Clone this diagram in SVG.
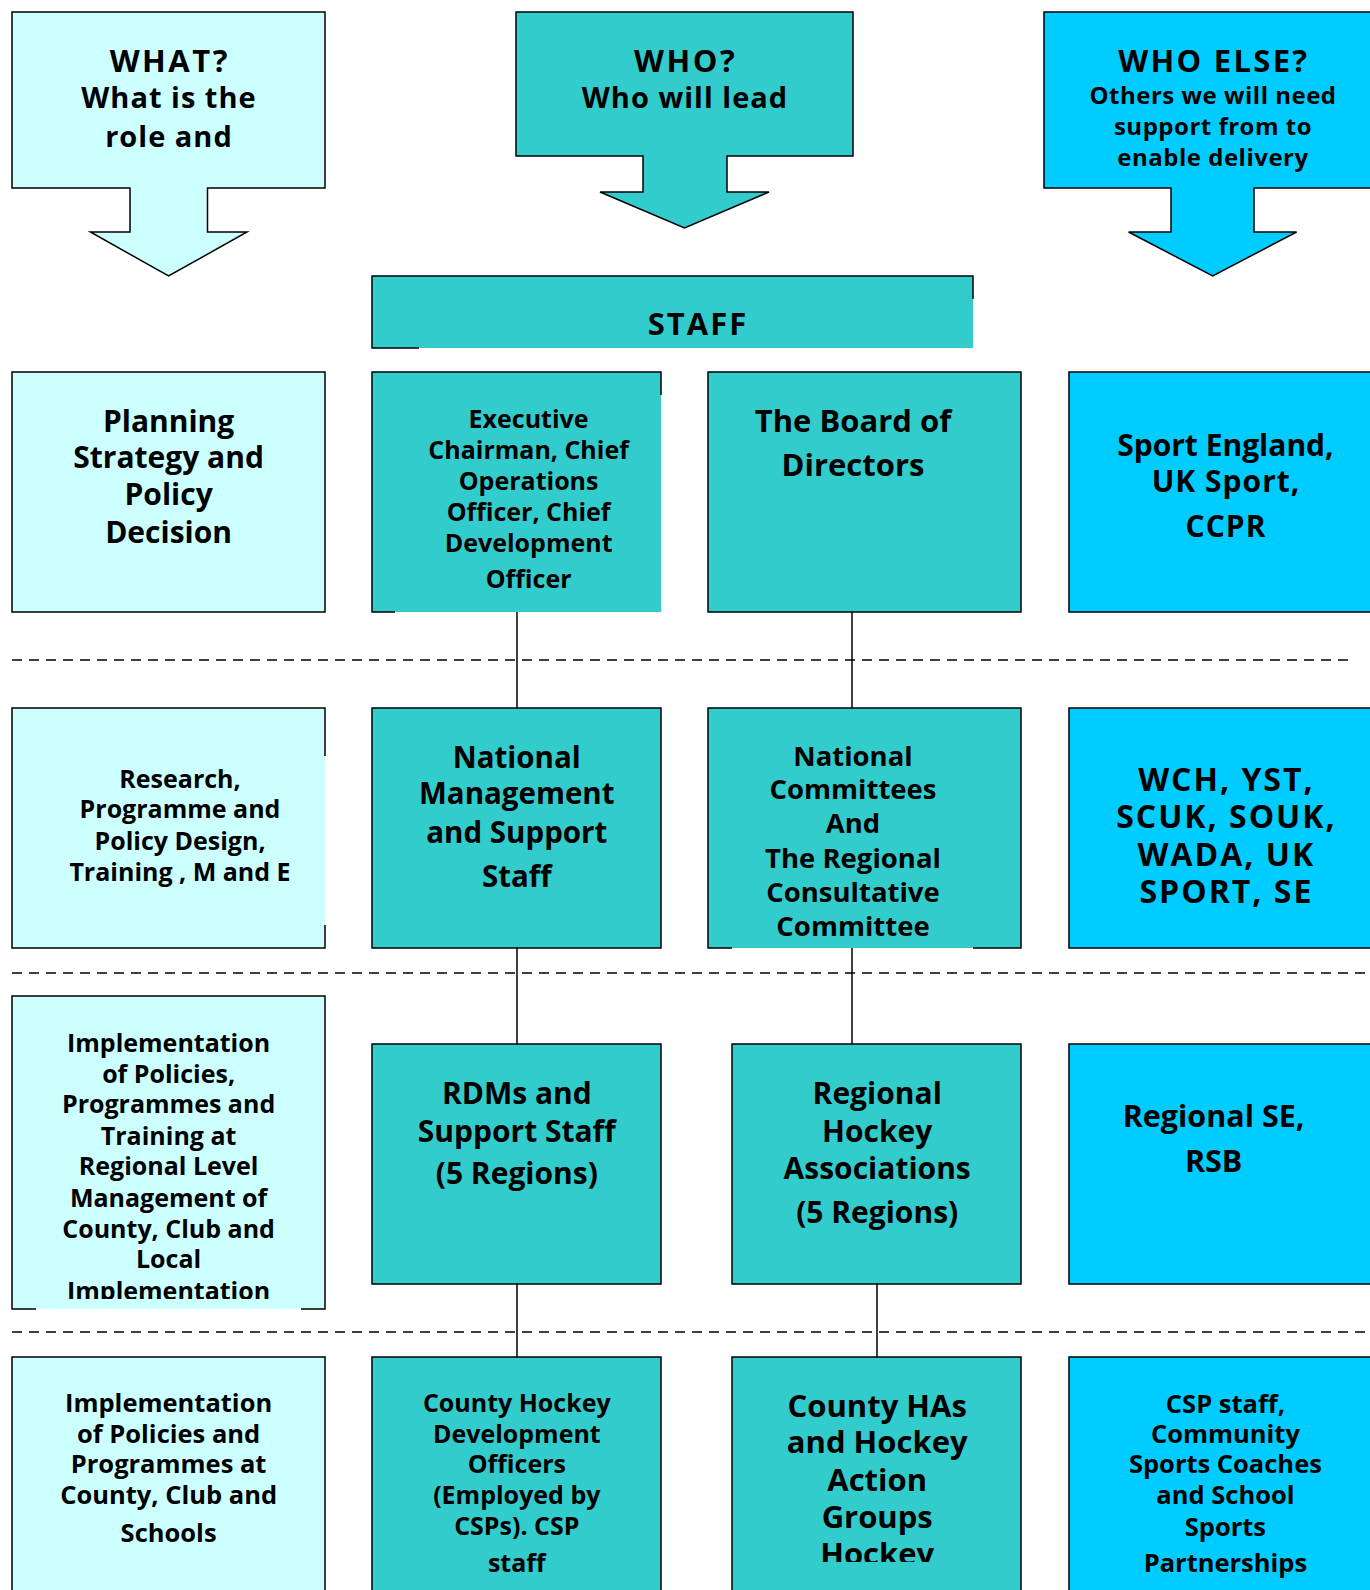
<svg xmlns="http://www.w3.org/2000/svg" width="1370" height="1590" viewBox="0 0 1370 1590">
<style>
.lc{fill:#CCFFFF}
.tl{fill:#33CCCC}
.bl{fill:#00CCFF}
.bd{stroke:#000;stroke-width:1.5;fill:none}
.box{stroke:#000;stroke-width:1.5}
text{font-family:"Open Sans","DejaVu Sans",sans-serif;font-weight:bold;fill:#000;text-anchor:middle}
.conn line{stroke:#000;stroke-width:1.5}
.dash line{stroke:#000;stroke-width:1.5;stroke-dasharray:10 7}
</style>
<defs>
<clipPath id="clipImpl"><rect x="12" y="996" width="313" height="303"/></clipPath>
<clipPath id="clipHAs"><rect x="732" y="1357" width="289" height="205"/></clipPath>
</defs>
<rect width="1370" height="1590" fill="#fff"/>

<g id="dividers" class="dash">
<line x1="12" y1="660" x2="1349" y2="660"/>
<line x1="12" y1="973" x2="1365" y2="973"/>
<line x1="12" y1="1332" x2="1365" y2="1332"/>
</g>

<g id="connectors" class="conn">
<line x1="517" y1="612" x2="517" y2="708"/>
<line x1="852" y1="612" x2="852" y2="708"/>
<line x1="517" y1="948" x2="517" y2="1044"/>
<line x1="852" y1="948" x2="852" y2="1044"/>
<line x1="517" y1="1284" x2="517" y2="1357"/>
<line x1="877" y1="1284" x2="877" y2="1357"/>
</g>

<g id="what">
<polygon class="lc box" points="12,12 325,12 325,188 207.5,188 207.5,232 247,232 168.6,276 90.4,232 130,232 130,188 12,188"/>
<text font-size="31" letter-spacing="2.5"><tspan x="169.8" y="72">WHAT?</tspan></text>
<text font-size="29" letter-spacing="1"><tspan x="169" y="108">What is the</tspan><tspan x="169" y="147">role and</tspan></text>
</g>

<g id="who">
<polygon class="tl box" points="516,12 853,12 853,156 727,156 727,192 769,192 684.5,228 600,192 643,192 643,156 516,156"/>
<text font-size="31" letter-spacing="2.5"><tspan x="685.7" y="72">WHO?</tspan></text>
<text font-size="29" letter-spacing="1"><tspan x="685" y="108">Who will lead</tspan></text>
</g>

<g id="whoelse">
<polygon class="bl box" points="1044,12 1385,12 1385,188 1254,188 1254,232 1296.6,232 1212.7,276 1128.6,232 1171,232 1171,188 1044,188"/>
<text font-size="31" letter-spacing="2.3"><tspan x="1213.8" y="72">WHO ELSE?</tspan></text>
<text font-size="24" letter-spacing="0.5"><tspan x="1213" y="104">Others we will need</tspan><tspan x="1213" y="135">support from to</tspan><tspan x="1213" y="166">enable delivery</tspan></text>
</g>

<g id="staff">
<rect class="tl" x="372" y="276" width="601" height="72"/>
<path class="bd" d="M419,348 H372 V276 H973 V299"/>
<text font-size="31" letter-spacing="2"><tspan x="698" y="335">STAFF</tspan></text>
</g>

<g id="planning">
<rect class="lc box" x="12" y="372" width="313" height="240"/>
<text font-size="30"><tspan x="168.6" y="432">Planning</tspan><tspan x="168.6" y="468">Strategy and</tspan><tspan x="168.6" y="505">Policy</tspan><tspan x="168.6" y="543">Decision</tspan></text>
</g>

<g id="executive">
<rect class="tl" x="372" y="372" width="289" height="240"/>
<path class="bd" d="M395,612 H372 V372 H661 V395"/>
<text font-size="25"><tspan x="528.6" y="428">Executive</tspan><tspan x="528.6" y="459">Chairman, Chief</tspan><tspan x="528.6" y="490">Operations</tspan><tspan x="528.6" y="521">Officer, Chief</tspan><tspan x="528.6" y="552">Development</tspan><tspan x="528.6" y="588">Officer</tspan></text>
</g>

<g id="board">
<rect class="tl box" x="708" y="372" width="313" height="240"/>
<text font-size="31"><tspan x="853" y="432">The Board of</tspan><tspan x="853" y="476">Directors</tspan></text>
</g>

<g id="sportengland">
<rect class="bl box" x="1069" y="372" width="320" height="240"/>
<text font-size="30"><tspan x="1225.4" y="456">Sport England,</tspan></text>
<text font-size="30" letter-spacing="1"><tspan x="1226" y="492">UK Sport,</tspan><tspan x="1226" y="537">CCPR</tspan></text>
</g>

<g id="research">
<rect class="lc" x="12" y="708" width="313" height="240"/>
<path class="bd" d="M325,756 V708 H12 V948 H325 V925"/>
<text font-size="25"><tspan x="180" y="788">Research,</tspan><tspan x="180" y="818">Programme and</tspan><tspan x="180" y="850">Policy Design,</tspan><tspan x="180" y="881">Training , M and E</tspan></text>
</g>

<g id="nationalmgmt">
<rect class="tl box" x="372" y="708" width="289" height="240"/>
<text font-size="29.5"><tspan x="516.8" y="768">National</tspan><tspan x="516.8" y="804">Management</tspan><tspan x="516.8" y="843">and Support</tspan><tspan x="516.8" y="887">Staff</tspan></text>
</g>

<g id="nationalcommittees">
<rect class="tl" x="708" y="708" width="313" height="240"/>
<path class="bd" d="M732,948 H708 V708 H1021 V948 H973"/>
<text font-size="27.5"><tspan x="853" y="766">National</tspan><tspan x="853" y="799">Committees</tspan><tspan x="853" y="833">And</tspan><tspan x="853" y="868">The Regional</tspan><tspan x="853" y="902">Consultative</tspan><tspan x="853" y="936">Committee</tspan></text>
</g>

<g id="wch">
<rect class="bl box" x="1069" y="708" width="320" height="240"/>
<text font-size="32" letter-spacing="2"><tspan x="1226.4" y="791">WCH, YST,</tspan><tspan x="1226.4" y="828">SCUK, SOUK,</tspan><tspan x="1226.4" y="866">WADA, UK</tspan><tspan x="1226.4" y="903">SPORT, SE</tspan></text>
</g>

<g id="implementationregional">
<rect class="lc" x="12" y="996" width="313" height="313"/>
<path class="bd" d="M301,1309 H325 V996 H12 V1309 H36"/>
<text font-size="25" clip-path="url(#clipImpl)"><tspan x="168.6" y="1052">Implementation</tspan><tspan x="168.6" y="1083">of Policies,</tspan><tspan x="168.6" y="1113">Programmes and</tspan><tspan x="168.6" y="1145">Training at</tspan><tspan x="168.6" y="1175">Regional Level</tspan><tspan x="168.6" y="1207">Management of</tspan><tspan x="168.6" y="1238">County, Club and</tspan><tspan x="168.6" y="1268">Local</tspan><tspan x="168.6" y="1300">Implementation</tspan></text>
</g>

<g id="rdms">
<rect class="tl box" x="372" y="1044" width="289" height="240"/>
<text font-size="30"><tspan x="516.8" y="1104">RDMs and</tspan><tspan x="516.8" y="1142">Support Staff</tspan><tspan x="516.8" y="1184">(5 Regions)</tspan></text>
</g>

<g id="regionalhockey">
<rect class="tl box" x="732" y="1044" width="289" height="240"/>
<text font-size="30"><tspan x="877.2" y="1104">Regional</tspan><tspan x="877.2" y="1142">Hockey</tspan><tspan x="877.2" y="1179">Associations</tspan><tspan x="877.2" y="1223">(5 Regions)</tspan></text>
</g>

<g id="regionalse">
<rect class="bl box" x="1069" y="1044" width="320" height="240"/>
<text font-size="30.5"><tspan x="1213.6" y="1127">Regional SE,</tspan><tspan x="1213.6" y="1172">RSB</tspan></text>
</g>

<g id="implementationcounty">
<rect class="lc box" x="12" y="1357" width="313" height="250"/>
<text font-size="25.5"><tspan x="168.6" y="1412">Implementation</tspan><tspan x="168.6" y="1443">of Policies and</tspan><tspan x="168.6" y="1473">Programmes at</tspan><tspan x="168.6" y="1504">County, Club and</tspan><tspan x="168.6" y="1542">Schools</tspan></text>
</g>

<g id="countyhockey">
<rect class="tl box" x="372" y="1357" width="289" height="250"/>
<text font-size="25"><tspan x="516.8" y="1412">County Hockey</tspan><tspan x="516.8" y="1443">Development</tspan><tspan x="516.8" y="1473">Officers</tspan><tspan x="516.8" y="1504">(Employed by</tspan><tspan x="516.8" y="1535">CSPs). CSP</tspan><tspan x="516.8" y="1572">staff</tspan></text>
</g>

<g id="countyhas">
<rect class="tl box" x="732" y="1357" width="289" height="250"/>
<text font-size="31" clip-path="url(#clipHAs)"><tspan x="877.2" y="1417">County HAs</tspan><tspan x="877.2" y="1453">and Hockey</tspan><tspan x="877.2" y="1491">Action</tspan><tspan x="877.2" y="1528">Groups</tspan><tspan x="877.2" y="1565">Hockey</tspan></text>
</g>

<g id="cspstaff">
<rect class="bl box" x="1069" y="1357" width="320" height="250"/>
<text font-size="25.5"><tspan x="1225.4" y="1413">CSP staff,</tspan><tspan x="1225.4" y="1443">Community</tspan><tspan x="1225.4" y="1473">Sports Coaches</tspan><tspan x="1225.4" y="1504">and School</tspan><tspan x="1225.4" y="1536">Sports</tspan><tspan x="1225.4" y="1572">Partnerships</tspan></text>
</g>
</svg>
